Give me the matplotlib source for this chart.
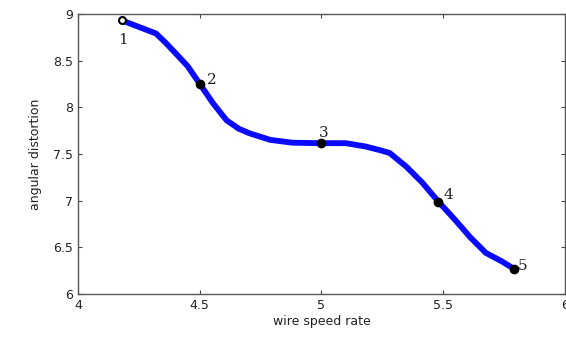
import matplotlib

matplotlib.use("Agg")
import matplotlib.pyplot as plt

# curve
curve_x = [4.18, 4.25, 4.32, 4.36, 4.40, 4.45, 4.50, 4.555, 4.61, 4.66, 4.705, 4.79,
           4.88, 4.99, 5.10, 5.18, 5.24, 5.28, 5.35, 5.415, 5.48, 5.55, 5.61, 5.675,
           5.74, 5.79]
curve_y = [8.93, 8.86, 8.79, 8.69, 8.58, 8.44, 8.25, 8.04, 7.86, 7.77, 7.72, 7.65,
           7.62, 7.615, 7.615, 7.58, 7.54, 7.51, 7.36, 7.19, 6.99, 6.79, 6.61, 6.44,
           6.35, 6.27]

# numbered points
point_x = [4.18, 4.50, 5.00, 5.48, 5.79]
point_y = [8.93, 8.25, 7.62, 6.99, 6.27]
point_labels = ["1", "2", "3", "4", "5"]

x_ticks = [4, 4.5, 5, 5.5, 6]
x_tick_labels = ["4", "4.5", "5", "5.5", "6"]
y_ticks = [6, 6.5, 7, 7.5, 8, 8.5, 9]
y_tick_labels = ["6", "6.5", "7", "7.5", "8", "8.5", "9"]

fig = plt.figure(figsize=(5.66, 3.39), dpi=100)
ax = fig.add_axes([0.138, 0.133, 0.860, 0.826])

ax.plot(curve_x, curve_y, color="#0a0aff", linewidth=4.2, solid_capstyle="round",
        solid_joinstyle="round", zorder=2)

ax.plot(point_x[:1], point_y[:1], "o", markersize=5, markerfacecolor="white",
        markeredgecolor="black", markeredgewidth=1.5, zorder=3)
ax.plot(point_x[1:], point_y[1:], "o", markersize=6, color="black", zorder=3)

offsets = [(-3, -17), (5, 0), (-2, 4), (4, 2), (3, -1)]
for px, py, lab, off in zip(point_x, point_y, point_labels, offsets):
    ax.annotate(lab, (px, py), xytext=off, textcoords="offset points",
                fontsize=11, family="DejaVu Serif", color="#222222")

ax.set_xlim(4, 6)
ax.set_ylim(6, 9)
ax.set_xticks(x_ticks)
ax.set_xticklabels(x_tick_labels)
ax.set_yticks(y_ticks)
ax.set_yticklabels(y_tick_labels)
ax.tick_params(direction="in", length=3, labelsize=9, colors="#444444",
               top=True, right=True, width=0.8)
for lab in ax.get_xticklabels() + ax.get_yticklabels():
    lab.set_color("#222222")
for spine in ax.spines.values():
    spine.set_color("#555555")
    spine.set_linewidth(1.0)

ax.set_xlabel("wire speed rate", fontsize=9, labelpad=2, color="#222222")
ax.set_ylabel("angular distortion", fontsize=9, labelpad=8, color="#222222")

fig.savefig("out.png", dpi=100)
